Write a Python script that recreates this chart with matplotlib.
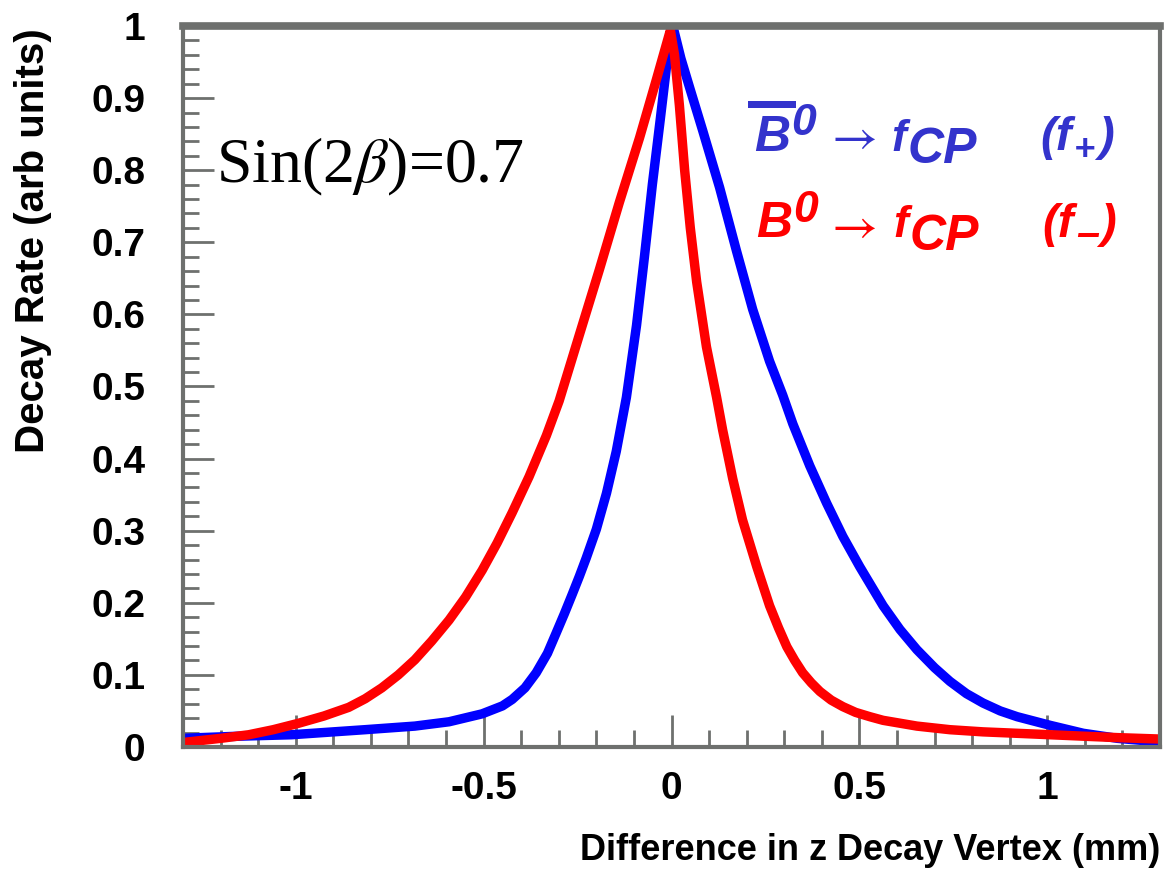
import matplotlib
matplotlib.use("Agg")
import matplotlib.pyplot as plt
from matplotlib.ticker import MultipleLocator, FormatStrFormatter
from matplotlib.patches import Rectangle

W, H = 1166, 876

# B0bar -> fCP (f+)
blue_x = [-1.304, -1.15, -1.011, -0.9, -0.816, -0.683, -0.592, -0.504, -0.45,
          -0.424, -0.39, -0.36, -0.33, -0.307, -0.285, -0.264, -0.245, -0.227,
          -0.2, -0.173, -0.147, -0.12, -0.093, -0.072, -0.051, -0.03, -0.013,
          0.005, 0.025, 0.048, 0.083, 0.128, 0.173, 0.216, 0.261, 0.296, 0.323,
          0.368, 0.413, 0.456, 0.501, 0.563, 0.608, 0.653, 0.7, 0.741, 0.785,
          0.829, 0.875, 0.92, 1.008, 1.096, 1.187, 1.301]
blue_y = [0.012, 0.015, 0.017, 0.021, 0.024, 0.029, 0.035, 0.046, 0.057,
          0.066, 0.082, 0.103, 0.13, 0.158, 0.185, 0.212, 0.237, 0.262,
          0.302, 0.352, 0.41, 0.485, 0.585, 0.68, 0.78, 0.87, 0.945,
          0.997, 0.955, 0.915, 0.855, 0.776, 0.688, 0.607, 0.535, 0.488, 0.448,
          0.39, 0.338, 0.292, 0.25, 0.196, 0.163, 0.135, 0.11, 0.091, 0.074,
          0.061, 0.05, 0.042, 0.03, 0.019, 0.012, 0.007]

# B0 -> fCP (f-)
red_x = [-1.304, -1.2, -1.125, -1.06, -0.992, -0.925, -0.859, -0.815, -0.771,
         -0.727, -0.683, -0.638, -0.592, -0.548, -0.504, -0.464, -0.424, -0.379,
         -0.333, -0.299, -0.245, -0.192, -0.139, -0.085, -0.04, -0.015, -0.003,
         0.008, 0.021, 0.035, 0.05, 0.067, 0.093, 0.12, 0.136, 0.163, 0.189,
         0.227, 0.261, 0.285, 0.307, 0.328, 0.349, 0.372, 0.395, 0.425, 0.456,
         0.49, 0.528, 0.563, 0.653, 0.741, 0.829, 0.92, 1.008, 1.096, 1.187, 1.301]
red_y = [0.006, 0.012, 0.017, 0.024, 0.033, 0.043, 0.055, 0.067, 0.082,
         0.1, 0.121, 0.147, 0.176, 0.208, 0.245, 0.283, 0.325, 0.375,
         0.432, 0.48, 0.572, 0.662, 0.755, 0.845, 0.926, 0.972, 0.994,
         0.96, 0.89, 0.8, 0.72, 0.645, 0.555, 0.485, 0.44, 0.372, 0.315,
         0.25, 0.196, 0.165, 0.139, 0.12, 0.103, 0.089, 0.077, 0.065, 0.056,
         0.048, 0.042, 0.037, 0.029, 0.024, 0.021, 0.019, 0.017, 0.015, 0.013, 0.011]

BLUE_TXT = "#3333cc"
RED_TXT = "#ff0000"
FRAME = "#6e706e"

plt.rcParams["axes.unicode_minus"] = False
plt.rcParams["font.family"] = "Liberation Sans"

fig = plt.figure(figsize=(W / 100, H / 100), dpi=100)
ax = fig.add_axes([183 / W, 1 - 747 / H, (1160 - 183) / W, (747 - 26) / H])

ax.plot(blue_x, blue_y, color="#0000ff", lw=6.8, solid_joinstyle="round", solid_capstyle="round")
ax.plot(red_x, red_y, color="#ff0000", lw=6.8, solid_joinstyle="round", solid_capstyle="round")

ax.set_xlim(-1.3, 1.3)
ax.set_ylim(0, 1)

for s in ax.spines.values():
    s.set_color(FRAME)
    s.set_linewidth(3)
ax.spines["top"].set_linewidth(5.5)

ax.xaxis.set_major_locator(MultipleLocator(0.5))
ax.xaxis.set_minor_locator(MultipleLocator(0.1))
ax.yaxis.set_major_locator(MultipleLocator(0.1))
ax.yaxis.set_minor_locator(MultipleLocator(0.02))
ax.xaxis.set_major_formatter(FormatStrFormatter("%g"))
ax.yaxis.set_major_formatter(FormatStrFormatter("%g"))

ax.tick_params(which="both", direction="in", color=FRAME, width=2,
               top=False, right=False, labelcolor="black")
ax.tick_params(axis="y", which="major", length=22, pad=27, labelsize=28)
ax.tick_params(axis="y", which="minor", length=11.5)
ax.tick_params(axis="x", which="major", length=23, pad=17, labelsize=28)
ax.tick_params(axis="x", which="minor", length=12)
for lab in ax.get_xticklabels() + ax.get_yticklabels():
    lab.set_fontweight("bold")

fig.text(33 / W, 1 - 241 / H, "Decay Rate (arb units)", rotation=90,
         ha="center", va="center", fontsize=29, fontweight="bold")
fig.text(1160 / W, 1 - 850 / H, "Difference in z Decay Vertex (mm)",
         ha="right", va="center", fontsize=26, fontweight="bold")

fig.text(216 / W, 1 - 182 / H, r"Sin(2$\beta$)=0.7", family="Liberation Serif",
         math_fontfamily="stix", fontsize=46, va="baseline", ha="left")


def piece(x, y, s, color, size, style="italic", weight="bold", family="Liberation Sans"):
    return fig.text(x / W, 1 - y / H, s, color=color, fontsize=size, fontstyle=style,
                    fontweight=weight, family=family, ha="left", va="baseline")


def arrow(x, y, color):
    return fig.text(x / W, 1 - y / H, r"$\rightarrow$", color=color, fontsize=36,
                    math_fontfamily="stix", ha="left", va="baseline")


# blue label line
fig.add_artist(Rectangle((748 / W, 1 - 108 / H), 48 / W, 7 / H,
                         transform=fig.transFigure, color=BLUE_TXT, lw=0))
piece(754, 151, "B", BLUE_TXT, 36)
piece(791, 135, "0", BLUE_TXT, 32)
arrow(824, 151, BLUE_TXT)
piece(891, 151, "f", BLUE_TXT, 32)
piece(908, 163, "CP", BLUE_TXT, 36)
piece(1040, 150, "(f", BLUE_TXT, 34)
piece(1074, 160, "+", BLUE_TXT, 26)
piece(1098, 150, ")", BLUE_TXT, 34)

# red label line
piece(756, 237, "B", RED_TXT, 36)
piece(793, 222, "0", RED_TXT, 32)
arrow(824, 240, RED_TXT)
piece(893, 237, "f", RED_TXT, 32)
piece(910, 250, "CP", RED_TXT, 36)
piece(1042, 237, "(f", RED_TXT, 34)
piece(1076, 246, "\u2013", RED_TXT, 30)
piece(1100, 237, ")", RED_TXT, 34)

fig.savefig("out.png", dpi=100)
